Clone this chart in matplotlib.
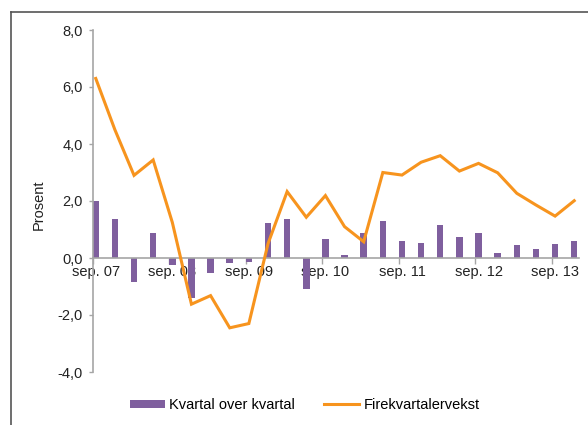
import matplotlib
matplotlib.use("Agg")
import matplotlib.pyplot as plt
from matplotlib.lines import Line2D
from matplotlib.patches import Patch
import numpy as np

plt.rcParams['font.family'] = ['Liberation Sans', 'DejaVu Sans']

year_labels = ["sep. 07", "sep. 08", "sep. 09", "sep. 10", "sep. 11", "sep. 12", "sep. 13"]
qoq = [2.0, 1.36, -0.85, 0.89, -0.23, -1.4, -0.54, -0.19, -0.13,
       1.22, 1.37, -1.1, 0.66, 0.10, 0.89, 1.31, 0.60, 0.51, 1.16,
       0.75, 0.87, 0.19, 0.46, 0.32, 0.48, 0.60]
yoy = [6.3, 4.5, 2.9, 3.44, 1.25, -1.62, -1.32, -2.45, -2.3,
       0.5, 2.33, 1.43, 2.19, 1.1, 0.57, 3.0, 2.91, 3.36, 3.59,
       3.05, 3.32, 2.99, 2.27, 1.86, 1.47, 2.01]
yticks = [-4, -2, 0, 2, 4, 6, 8]

purple = '#7f5f9e'
orange = '#f7941e'
gray = '#a6a6a6'

fig = plt.figure(figsize=(5.88, 4.25), dpi=100)
ax = fig.add_axes([92.5/588, 1-372/425, (579-92.5)/588, (372-30)/425])

x = np.arange(len(qoq))
ax.bar(x, qoq, width=0.34, color=purple, zorder=2)
ax.plot(x, yoy, color=orange, lw=2.2, zorder=3, solid_joinstyle='miter')

ax.set_xlim(-0.17, 25.25)
ax.set_ylim(-4, 8)

for s in ['top', 'right']:
    ax.spines[s].set_visible(False)
ax.spines['bottom'].set_position(('data', 0))
ax.spines['bottom'].set_color(gray)
ax.spines['left'].set_color(gray)
ax.spines['bottom'].set_linewidth(1.2)
ax.spines['left'].set_linewidth(1.2)

ax.set_yticks(yticks)
ax.set_yticklabels([f"{v:.1f}".replace('.', ',') for v in yticks])
ax.tick_params(axis='y', direction='out', length=3, width=1, color=gray,
               labelsize=10.5, pad=4, labelcolor='#222222')

major = [-0.17 + 4*k for k in range(len(year_labels))]
ax.set_xticks(major)
ax.set_xticklabels([''] * len(major))
ax.set_xticks([4*k for k in range(len(year_labels))], minor=True)
ax.set_xticklabels(year_labels, minor=True)
ax.tick_params(axis='x', which='major', direction='out', length=4, width=1, color=gray)
ax.tick_params(axis='x', which='minor', length=0, pad=5, labelsize=10.5, labelcolor='#222222')

ax.set_ylabel("Prosent", fontsize=10.5, color='#222222')
ax.yaxis.set_label_coords((46-92.5)/(579-92.5), 0.49)

handles = [Patch(facecolor=purple, edgecolor='none'),
           Line2D([0], [0], color=orange, lw=2.2)]
fig.legend(handles, ["Kvartal over kvartal", "Firekvartalervekst"],
           loc='center', bbox_to_anchor=(305/588, 1-405/425), ncol=2,
           frameon=False, fontsize=10.5, handlelength=2.4, handleheight=0.5,
           columnspacing=2.0, handletextpad=0.3)

# outer frame
fig.add_artist(Line2D([11/588, 11/588], [0, 1-12/425], color='#555555', lw=1.2,
                      transform=fig.transFigure))
fig.add_artist(Line2D([11/588, 1], [1-12/425, 1-12/425], color='#555555', lw=1.2,
                      transform=fig.transFigure))

fig.savefig("out.png", dpi=100)
